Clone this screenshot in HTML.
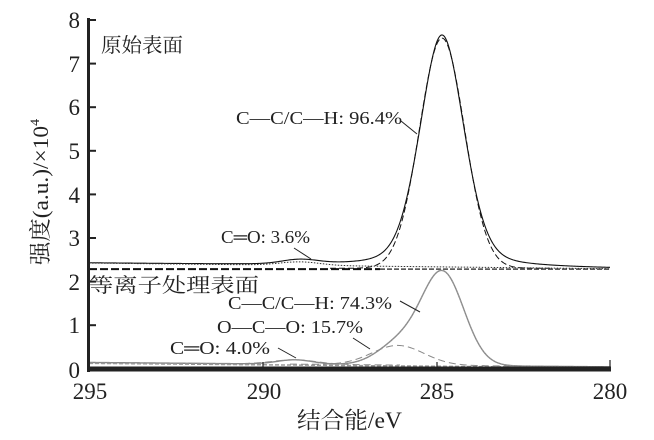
<!DOCTYPE html>
<html><head><meta charset="utf-8"><style>
html,body{margin:0;padding:0;background:#fff;}
svg{display:block;}
text{font-family:"Liberation Serif","Noto Serif CJK SC",serif;fill:#222;}
</style></head><body>
<svg id="s" width="654" height="440" viewBox="0 0 654 440" xmlns="http://www.w3.org/2000/svg">
<g id="curves" fill="none"></g>
<line x1="88.5" y1="18" x2="88.5" y2="372" stroke="#222" stroke-width="3"/>
<line x1="87" y1="369" x2="611" y2="369" stroke="#222" stroke-width="5"/>
<g stroke="#222" stroke-width="2">
<line x1="88" y1="20" x2="96" y2="20"/><line x1="88" y1="63.6" x2="96" y2="63.6"/>
<line x1="88" y1="107.2" x2="96" y2="107.2"/><line x1="88" y1="150.8" x2="96" y2="150.8"/>
<line x1="88" y1="194.4" x2="96" y2="194.4"/><line x1="88" y1="238" x2="96" y2="238"/>
<line x1="88" y1="281.6" x2="96" y2="281.6"/><line x1="88" y1="325.2" x2="96" y2="325.2"/>
</g>
<g stroke="#222" stroke-width="1.2">
<line x1="263" y1="369" x2="263" y2="362"/><line x1="437" y1="369" x2="437" y2="362"/><line x1="610" y1="369" x2="610" y2="360"/>
</g>
<g font-size="23" text-anchor="end">
<text x="80" y="28">8</text><text x="80" y="72">7</text><text x="80" y="115">6</text>
<text x="80" y="159">5</text><text x="80" y="203">4</text><text x="80" y="246">3</text>
<text x="80" y="290">2</text><text x="80" y="333">1</text><text x="80" y="378">0</text>
</g>
<g font-size="23" text-anchor="middle">
<text x="90" y="399">295</text><text x="264" y="399">290</text><text x="437" y="399">285</text><text x="610" y="399">280</text>
</g>
<text x="297" y="428" font-size="23" textLength="105" lengthAdjust="spacingAndGlyphs">结合能/eV</text>
<text transform="translate(48,265) rotate(-90)" font-size="22" textLength="146" lengthAdjust="spacingAndGlyphs">强度(a.u.)/×10<tspan font-size="13" dy="-9">4</tspan></text>
<text x="101" y="52" font-size="20" textLength="82" lengthAdjust="spacingAndGlyphs">原始表面</text>
<text x="89" y="292" font-size="20" textLength="170" lengthAdjust="spacingAndGlyphs">等离子处理表面</text>
<g font-size="18">
<text x="236" y="124" textLength="166" lengthAdjust="spacingAndGlyphs">C—C/C—H: 96.4%</text>
<text x="221" y="243" textLength="89" lengthAdjust="spacingAndGlyphs">C═O: 3.6%</text>
<text x="228" y="309" textLength="164" lengthAdjust="spacingAndGlyphs">C—C/C—H: 74.3%</text>
<text x="217" y="333" textLength="146" lengthAdjust="spacingAndGlyphs">O—C—O: 15.7%</text>
<text x="170" y="354" textLength="100" lengthAdjust="spacingAndGlyphs">C═O: 4.0%</text>
</g>
<g stroke="#222" stroke-width="1">
<line x1="401" y1="121" x2="417" y2="134"/>
<line x1="294" y1="248" x2="311" y2="259"/>
<line x1="400" y1="301" x2="420" y2="312"/>
<line x1="353" y1="338" x2="370" y2="349"/>
<line x1="278" y1="348" x2="296" y2="358"/>
</g>
</svg>
<script>
(function(){
var g=document.getElementById('curves');
function G(x,c,s){return Math.exp(-0.5*Math.pow((x-c)/s,2));}
function L(x,c,w){return 1/(1+Math.pow((x-c)/w,2));}
function Y(v){return 369-43.6*v;}
function path(f,x0,x1,stroke,dash,w){
 var d='';for(var x=x0;x<=x1;x+=1){d+=(x==x0?'M':'L')+x+' '+Y(f(x)).toFixed(2)+' ';}
 var p=document.createElementNS('http://www.w3.org/2000/svg','path');
 p.setAttribute('d',d);p.setAttribute('stroke',stroke);p.setAttribute('stroke-width',w||1.1);
 if(dash)p.setAttribute('stroke-dasharray',dash);g.appendChild(p);}
function tb(x){return 2.43-0.13*(x-89)/521;}
function bb(x){return 0.15-0.10*(x-89)/521;}
path(function(x){return tb(x)+5.32*(0.75*G(x,442,22)+0.25*L(x,442,26))+0.1*G(x,300,18);},89,610,'#111');
path(function(x){return 2.31+5.28*G(x,442,22.5);},330,550,'#111','6,3',1);
path(function(x){return tb(x)+0.08*G(x,300,20);},89,610,'#333','1.5,1.5',1);
path(function(x){return 2.29;},89,380,'#111','8,3',2);
path(function(x){return 2.29;},380,610,'#444','5,2',1.5);
path(function(x){return bb(x)+2.1*G(x,443,21)+0.5*G(x,400,22)+0.1*G(x,295,18);},89,610,'#888',null,1.4);
path(function(x){return bb(x)+2.1*G(x,443,21)+0.5*G(x,400,22);},330,610,'#999','1.5,1.5',1);
path(function(x){return bb(x)+0.45*G(x,398,26);},290,520,'#888','7,4',1);
path(function(x){return bb(x)+0.1*G(x,295,22);},89,400,'#888','7,4',1);
path(function(x){return bb(x)-0.02;},89,610,'#999','4,2',1.5);
})();
</script>
</body></html>
